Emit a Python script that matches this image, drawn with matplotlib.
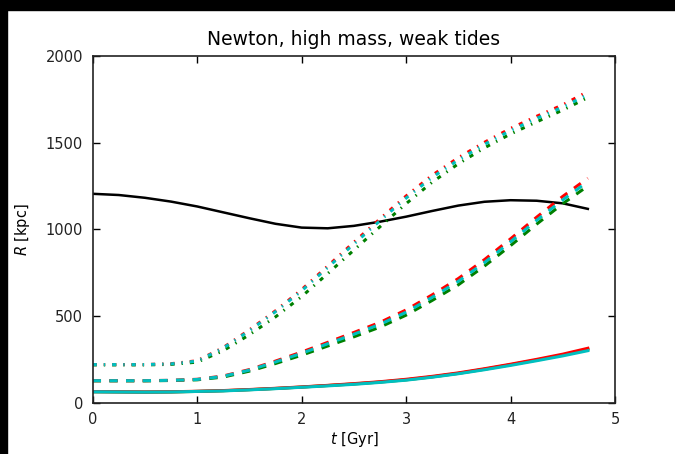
import matplotlib
matplotlib.use("Agg")
import matplotlib.pyplot as plt
from matplotlib.patches import Rectangle

# time grid [Gyr]
t = [0.0, 0.25, 0.5, 0.75, 1.0, 1.25, 1.5, 1.75, 2.0, 2.25,
     2.5, 2.75, 3.0, 3.25, 3.5, 3.75, 4.0, 4.25, 4.5, 4.74]

# host separation (black)
r_host = [1205, 1198, 1182, 1160, 1132, 1098, 1064, 1032, 1010, 1006,
          1020, 1044, 1073, 1106, 1137, 1159, 1168, 1165, 1150, 1118]

# solid group
r_solid_g = [63, 62, 61, 62, 65, 69, 75, 82, 90, 99,
             108, 119, 132, 149, 169, 193, 219, 246, 275, 308]
r_solid_r = [64, 63, 62, 63, 66, 70, 76, 83, 91, 100,
             110, 121, 135, 152, 172, 196, 222, 250, 280, 314]
r_solid_c = [63, 62, 61, 62, 65, 68, 74, 81, 89, 97,
             106, 117, 130, 147, 167, 190, 215, 242, 270, 300]

# dashed group
r_dash_g = [126, 126, 126, 128, 132, 148, 182, 226, 274, 327,
            380, 436, 505, 590, 680, 788, 906, 1030, 1148, 1250]
r_dash_r = [127, 127, 127, 129, 135, 154, 191, 240, 292, 348,
            405, 463, 535, 622, 716, 825, 945, 1070, 1190, 1295]
r_dash_c = [127, 127, 127, 129, 134, 152, 188, 235, 285, 340,
            395, 452, 522, 608, 700, 808, 928, 1052, 1170, 1275]

# dash-dot group
r_dd_g = [218, 218, 218, 221, 234, 300, 392, 495, 612, 745,
          880, 1015, 1148, 1272, 1378, 1470, 1550, 1620, 1688, 1760]
r_dd_r = [220, 220, 220, 225, 242, 318, 420, 530, 652, 788,
          925, 1060, 1192, 1312, 1413, 1502, 1582, 1652, 1718, 1795]
r_dd_c = [220, 220, 220, 224, 240, 315, 415, 525, 645, 780,
          915, 1050, 1180, 1300, 1400, 1490, 1570, 1640, 1705, 1778]

plt.rcParams["font.family"] = ["DejaVu Sans"]
plt.rcParams["lines.scale_dashes"] = False
plt.rcParams["lines.dashed_pattern"] = [6, 6]
plt.rcParams["lines.dashdot_pattern"] = [3, 5, 1, 5]

green = (0, 0.5, 0)
red = (1, 0, 0)
cyan = (0, 0.75, 0.75)

fig = plt.figure(figsize=(6.75, 4.54), dpi=100)
ax = fig.add_axes([0.1373, 0.1130, 0.7738, 0.7637])

ax.plot(t, r_host, color="k", lw=1.8)
for ys, ls in [((r_solid_g, r_solid_r, r_solid_c), "-"),
               ((r_dash_g, r_dash_r, r_dash_c), "--"),
               ((r_dd_g, r_dd_r, r_dd_c), "-.")]:
    for y, c in zip(ys, (green, red, cyan)):
        ax.plot(t, y, color=c, ls=ls, lw=2.2)

ax.set_xlim(0, 5)
ax.set_ylim(0, 2000)
ax.set_xticks([0, 1, 2, 3, 4, 5])
ax.set_yticks([0, 500, 1000, 1500, 2000])
ax.tick_params(direction="in", top=True, right=True, length=5, width=1,
               labelsize=10.5, pad=7, labelcolor="#222222")
for s in ax.spines.values():
    s.set_linewidth(1.2)
    s.set_color("#222222")

ax.set_title("Newton, high mass, weak tides", fontsize=13.5, pad=8)
ax.set_xlabel("$t$ [Gyr]", fontsize=10.5, labelpad=2)
ax.set_ylabel("$R$ [kpc]", fontsize=10.5, labelpad=10)

# dark frame strips along top and left edge of the screenshot
fig.patches.append(Rectangle((0, 1 - 10 / 454), 1, 10 / 454,
                             transform=fig.transFigure, color="black"))
fig.patches.append(Rectangle((0, 0), 7 / 675, 1,
                             transform=fig.transFigure, color="black"))

fig.savefig("out.png", dpi=100)
